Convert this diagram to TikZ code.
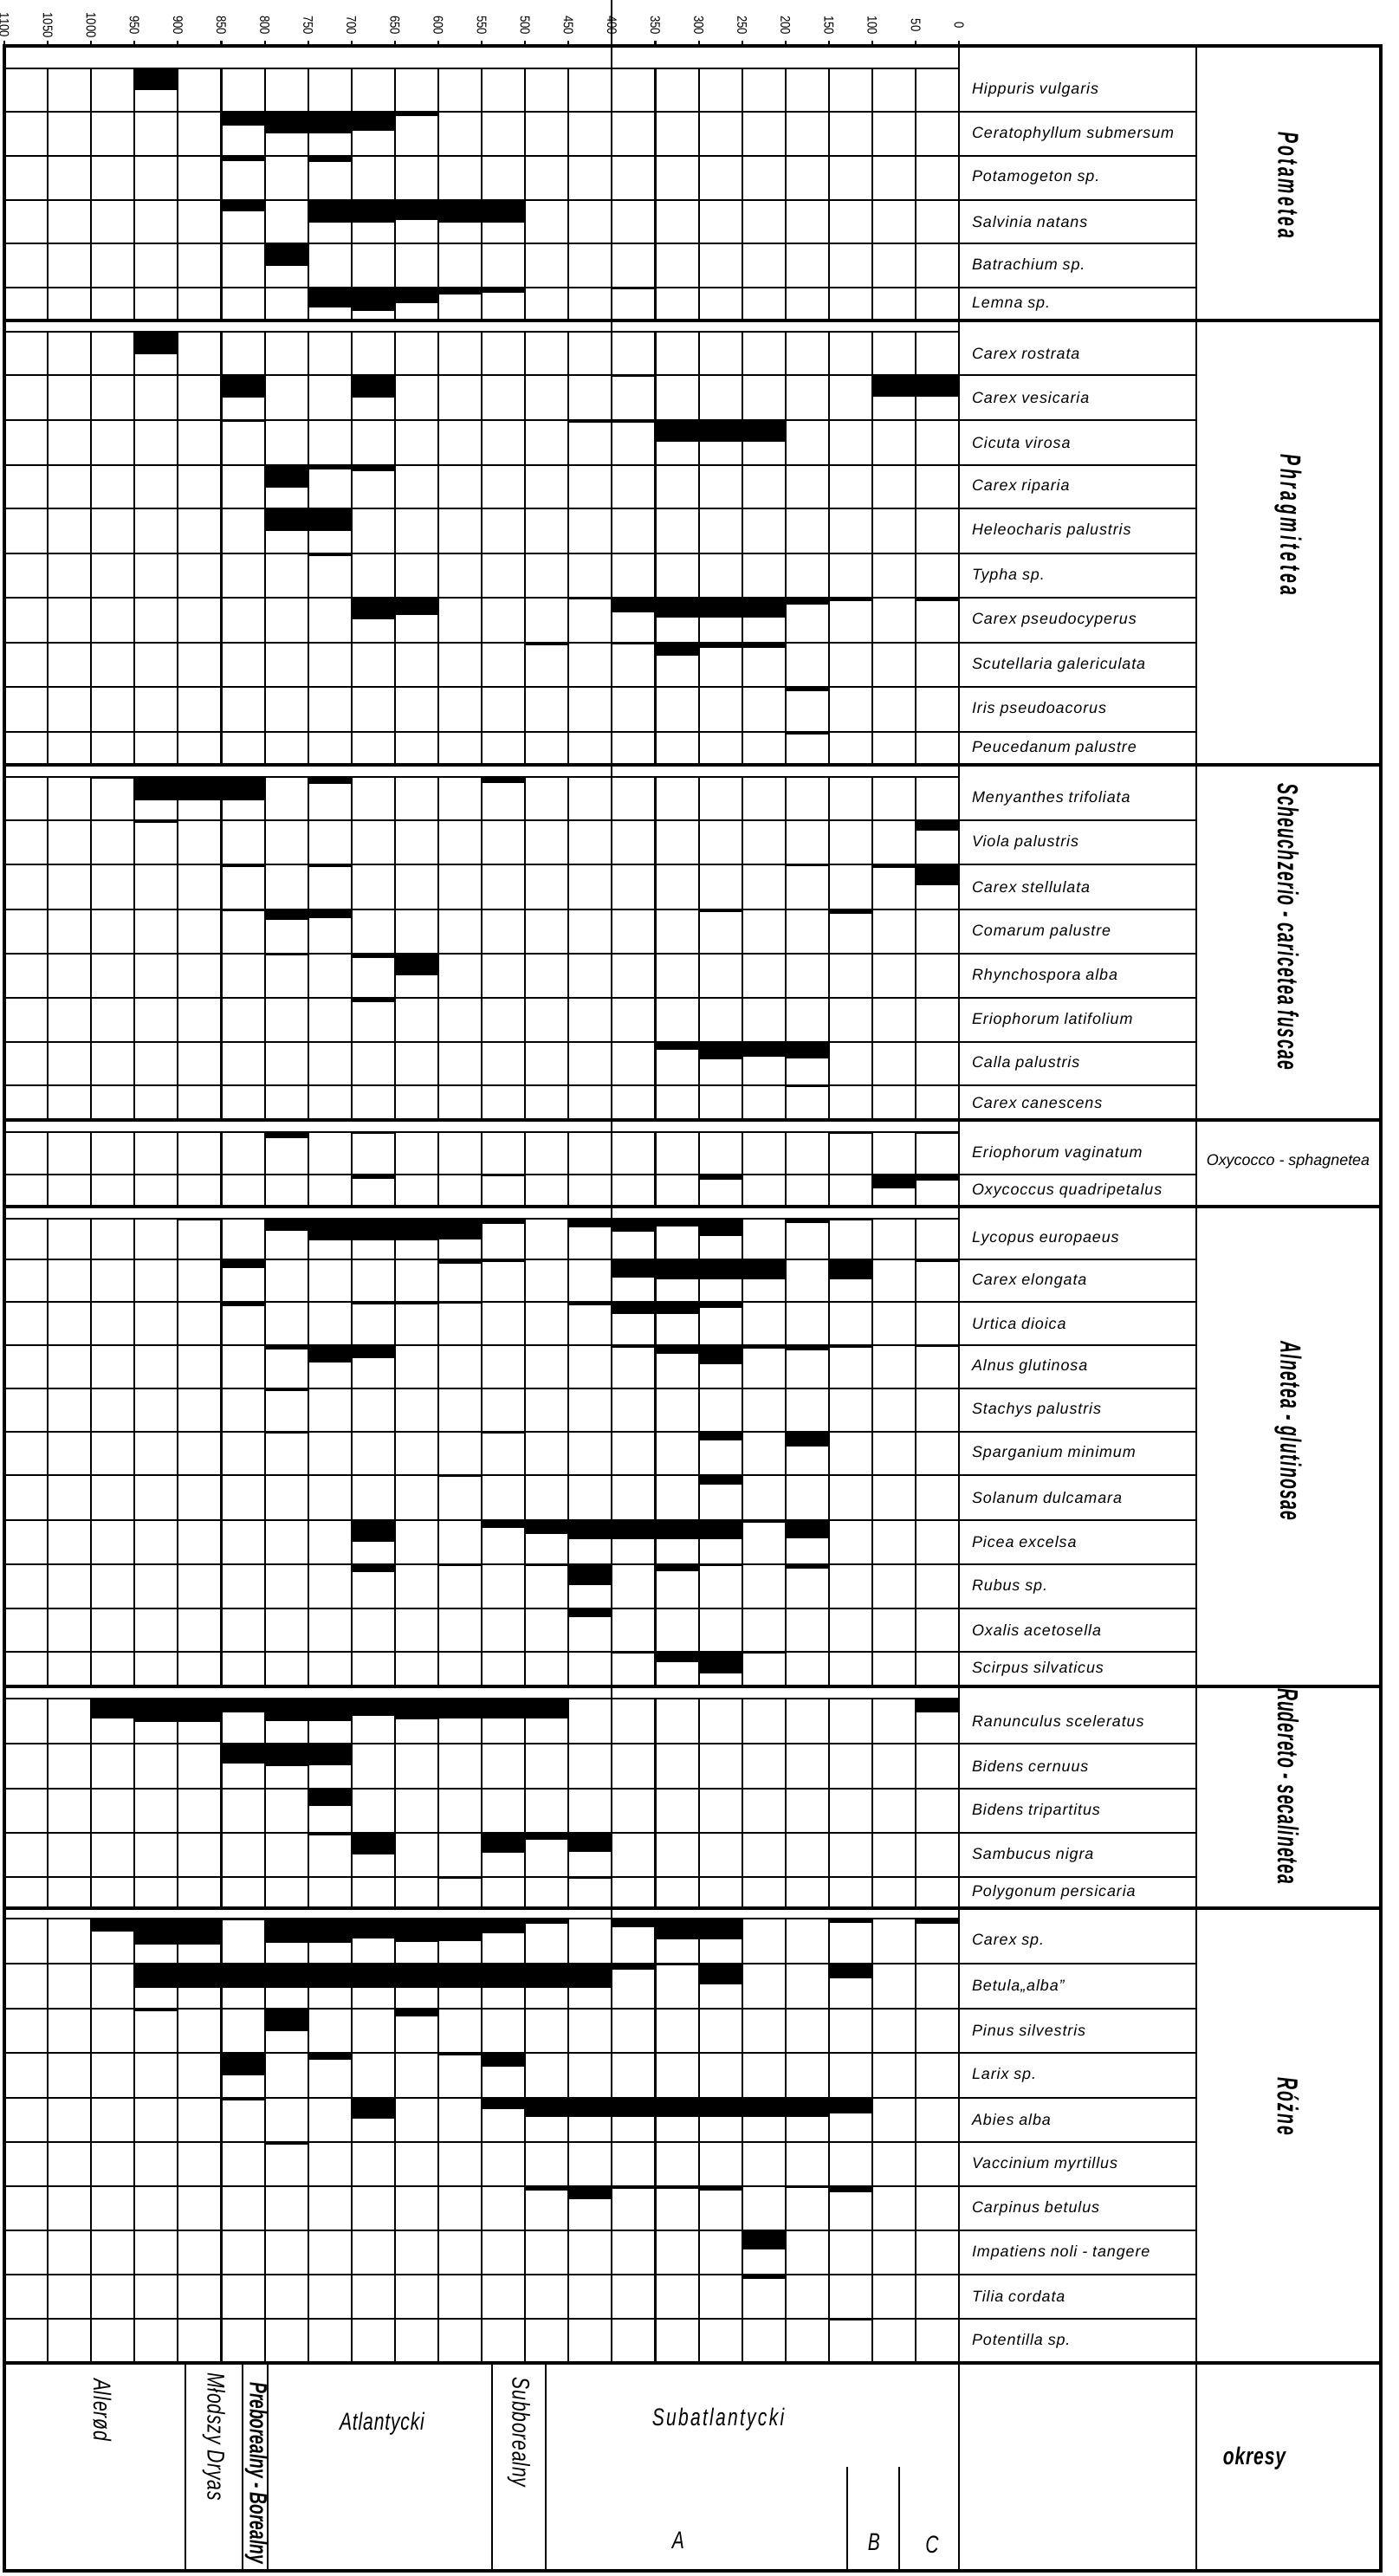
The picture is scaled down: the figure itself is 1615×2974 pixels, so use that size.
\documentclass[tikz,border=0pt]{standalone}
\usepackage{fontspec}
\setmainfont{Liberation Sans}
\newfontfamily\spfont[LetterSpace=5]{Liberation Sans}
\newfontfamily\grfont[FakeStretch=0.58]{Liberation Sans}
\newfontfamily\yrfont[FakeStretch=0.85]{Liberation Sans}
\newfontfamily\pdfont[FakeStretch=0.75,LetterSpace=3]{Liberation Sans}
\usetikzlibrary{positioning}

\begin{document}
\begin{tikzpicture}[x=0.01cm,y=-0.01cm,line width=0.6pt,
    species/.style={anchor=west,inner sep=0pt,font=\spfont\itshape\fontsize{5.1pt}{6pt}\selectfont},
    group/.style={inner sep=0pt,rotate=-90,font=\grfont\bfseries\itshape\fontsize{9.5pt}{11pt}\selectfont},
    year/.style={inner sep=0pt,rotate=-90,font=\yrfont\fontsize{4.4pt}{5pt}\selectfont},
    period/.style={inner sep=0pt,font=\pdfont\itshape\fontsize{8pt}{9pt}\selectfont},
    border/.style={line width=0.9pt}]
  \useasboundingbox (0,0) rectangle (1615,2974);
  \fill[white] (0,0) rectangle (1615,2974);

  % osie czasu
  \foreach \c in {0,...,22} {
    \pgfmathtruncatemacro\yr{1100-50*\c}
    \draw ({5+50.1*\c},47) -- ({5+50.1*\c},53);
    \node[year] (yr\c) at ({5+50.1*\c},29) {\yr};
  }

  % gatunki
  \foreach \ytop/\ybot/\spname/\bars [count=\i] in {
      79/129/{Hippuris vulgaris}/{3/25},
      129/180/{Ceratophyllum submersum}/{5/16,6/25,7/25,8/22,9/5},
      180/231/{Potamogeton sp.}/{5/6,7/7},
      231/281/{Salvinia natans}/{5/13,7/26,8/26,9/23,10/26,11/26},
      281/332/{Batrachium sp.}/{6/26},
      332/370/{Lemna sp.}/{7/23,8/27,9/18,10/8,11/6,14/2},
      383/433/{Carex rostrata}/{3/26},
      433/485/{Carex vesicaria}/{5/26,8/26,14/2,20/25,21/25},
      485/537/{Cicuta virosa}/{5/2,13/3,14/3,15/25,16/25,17/25},
      537/587/{Carex riparia}/{6/26,7/5,8/7},
      587/639/{Heleocharis palustris}/{6/26,7/26},
      639/690/{Typha sp.}/{7/3},
      690/742/{Carex pseudocyperus}/{8/25,9/20,13/2,14/17,15/23,16/23,17/23,18/8,19/4,21/4},
      742/793/{Scutellaria galericulata}/{12/3,14/2,15/15,16/6,17/6},
      793/845/{Iris pseudoacorus}/{18/5},
      845/883/{Peucedanum palustre}/{18/3},
      897/947/{Menyanthes trifoliata}/{2/2,3/27,4/27,5/27,7/8,11/7},
      947/998/{Viola palustris}/{3/3,21/12},
      998/1050/{Carex stellulata}/{5/3,7/3,18/2,20/4,21/24},
      1050/1101/{Comarum palustre}/{5/2,6/12,7/10,16/3,19/5},
      1101/1152/{Rhynchospora alba}/{6/2,8/5,9/25},
      1152/1203/{Eriophorum latifolium}/{8/5},
      1203/1253/{Calla palustris}/{15/9,16/20,17/17,18/19},
      1253/1293/{Carex canescens}/{18/2},
      1307/1356/{Eriophorum vaginatum}/{6/7,8/2,19/2,21/2},
      1356/1393/{Oxycoccus quadripetalus}/{8/5,11/2,16/6,20/16,21/7},
      1407/1454/{Lycopus europaeus}/{4/2,6/14,7/25,8/25,9/25,10/24,11/6,13/10,14/15,15/9,16/20,18/5,19/2},
      1454/1503/{Carex elongata}/{5/10,10/5,11/3,14/21,15/23,16/23,17/23,19/23,21/3},
      1503/1553/{Urtica dioica}/{5/5,8/3,9/3,10/2,13/4,14/14,15/14,16/7},
      1553/1603/{Alnus glutinosa}/{6/5,7/20,8/15,14/3,15/10,16/22,17/4,18/6,19/3,21/2},
      1603/1653/{Stachys palustris}/{6/3},
      1653/1703/{Sparganium minimum}/{6/2,11/2,16/10,18/17},
      1703/1755/{Solanum dulcamara}/{10/2,16/11},
      1755/1806/{Picea excelsa}/{8/25,11/9,12/16,13/22,14/22,15/22,16/22,17/3,18/21},
      1806/1857/{Rubus sp.}/{8/9,10/2,12/2,13/24,15/8,16/2,18/5},
      1857/1907/{Oxalis acetosella}/{13/10},
      1907/1947/{Scirpus silvaticus}/{14/2,15/12,16/25,17/2},
      1961/2013/{Ranunculus sceleratus}/{2/23,3/27,4/27,5/16,6/26,7/26,8/20,9/24,10/23,11/23,12/23,21/16},
      2013/2065/{Bidens cernuus}/{5/23,6/26,7/25},
      2065/2116/{Bidens tripartitus}/{7/20},
      2116/2167/{Sambucus nigra}/{7/3,8/25,11/23,12/8,13/22},
      2167/2203/{Polygonum persicaria}/{10/2,13/2},
      2215/2267/{Carex sp.}/{2/15,3/30,4/30,5/2,6/28,7/28,8/23,9/27,10/26,11/17,12/6,14/10,15/24,16/24,19/5,21/6},
      2267/2319/{Betula„alba”}/{3/28,4/28,5/28,6/28,7/28,8/28,9/28,10/28,11/28,12/28,13/28,14/7,15/2,16/24,19/17},
      2319/2370/{Pinus silvestris}/{3/3,6/26,9/9},
      2370/2422/{Larix sp.}/{5/26,7/8,10/3,11/16},
      2422/2473/{Abies alba}/{5/3,8/24,11/13,12/22,13/22,14/22,15/22,16/22,17/22,18/22,19/18},
      2473/2524/{Vaccinium myrtillus}/{6/3},
      2524/2575/{Carpinus betulus}/{12/5,13/15,14/3,15/3,16/5,18/2,19/7},
      2575/2626/{Impatiens noli - tangere}/{17/22},
      2626/2677/{Tilia cordata}/{17/5},
      2677/2728/{Potentilla sp.}/{19/2}} {
    \foreach \bc/\bd in \bars
      \fill ({5+50.1*\bc},\ytop) rectangle ({5+50.1*(\bc+1)},\ytop+\bd);
    \foreach \c in {1,...,21}
      \draw ({5+50.1*\c},\ytop) -- ({5+50.1*\c},\ybot);
    \draw (5,\ytop) -- (1107,\ytop);
    \draw (5,\ybot) -- (1381,\ybot);
    \node[species] (sp\i) at (1121,{(\ytop+\ybot)/2}) {\spname};
  }

  % ramki
  \draw[border] (5,53) rectangle (1594,2968);
  \draw[border] (5,2728) -- (1594,2728);
  \draw (706.4,0) -- (706.4,2728);
  \draw (1107,53) -- (1107,2968);
  \draw (1381,53) -- (1381,2968);
  \foreach \gy in {370,883,1293,1393,1947,2203}
    \draw[border] (5,\gy) -- (1594,\gy);

  % zespoly
  \node[group,font=\grfont\bfseries\itshape\fontsize{9.5pt}{11pt}\selectfont\addfontfeature{LetterSpace=9}] (g1) at (1487,214) {Potametea};
  \node[group,font=\grfont\bfseries\itshape\fontsize{9.5pt}{11pt}\selectfont\addfontfeature{LetterSpace=11}] (g2) at (1487,606) {Phragmitetea};
  \node[group,font=\grfont\bfseries\itshape\fontsize{9.5pt}{11pt}\selectfont\addfontfeature{LetterSpace=4}] (g3) at (1487,1070) {Scheuchzerio - caricetea fuscae};
  \node[species,anchor=center,font=\spfont\itshape\fontsize{5.1pt}{6pt}\selectfont\addfontfeature{LetterSpace=0}] (g4) at (1487,1341) {Oxycocco - sphagnetea};
  \node[group,font=\grfont\bfseries\itshape\fontsize{9.5pt}{11pt}\selectfont\addfontfeature{LetterSpace=4}] (g5) at (1487,1652) {Alnetea - glutinosae};
  \node[group,font=\grfont\bfseries\itshape\fontsize{9.5pt}{11pt}\selectfont\addfontfeature{LetterSpace=3}] (g6) at (1487,2062) {Rudereto - secalinetea};
  \node[group,font=\grfont\bfseries\itshape\fontsize{9.5pt}{11pt}\selectfont\addfontfeature{LetterSpace=7}] (g7) at (1487,2432) {Różne};

  % okresy
  \foreach \px in {214,280,309,568,630}
    \draw (\px,2728) -- (\px,2968);
  \draw (978,2848) -- (978,2968);
  \draw (1038,2848) -- (1038,2968);
  \node[period,rotate=-90] (allerod) at (118,2782) {Allerød};
  \node[period,rotate=-90] (dryas) at (247,2813) {Młodszy Dryas};
  \node[period,rotate=-90,font=\pdfont\bfseries\itshape\fontsize{8pt}{9pt}\selectfont\addfontfeature{LetterSpace=0,FakeStretch=0.68}] (boreal) at (296,2855) {Preborealny - Borealny};
  \node[period] (atlant) at (441,2798) {Atlantycki};
  \node[period,rotate=-90] (subbor) at (599,2808) {Subborealny};
  \node[period,font=\pdfont\itshape\fontsize{8pt}{9pt}\selectfont\addfontfeature{LetterSpace=8}] (subatl) at (829,2793) {Subatlantycki};
  \node[period] (subA) at (783,2933) {A};
  \node[period] (subB) at (1009,2935) {B};
  \node[period] (subC) at (1076,2938) {C};
  \node[period,font=\pdfont\bfseries\itshape\fontsize{8pt}{9pt}\selectfont] (okresy) at (1448,2838) {okresy};
\end{tikzpicture}
\end{document}
